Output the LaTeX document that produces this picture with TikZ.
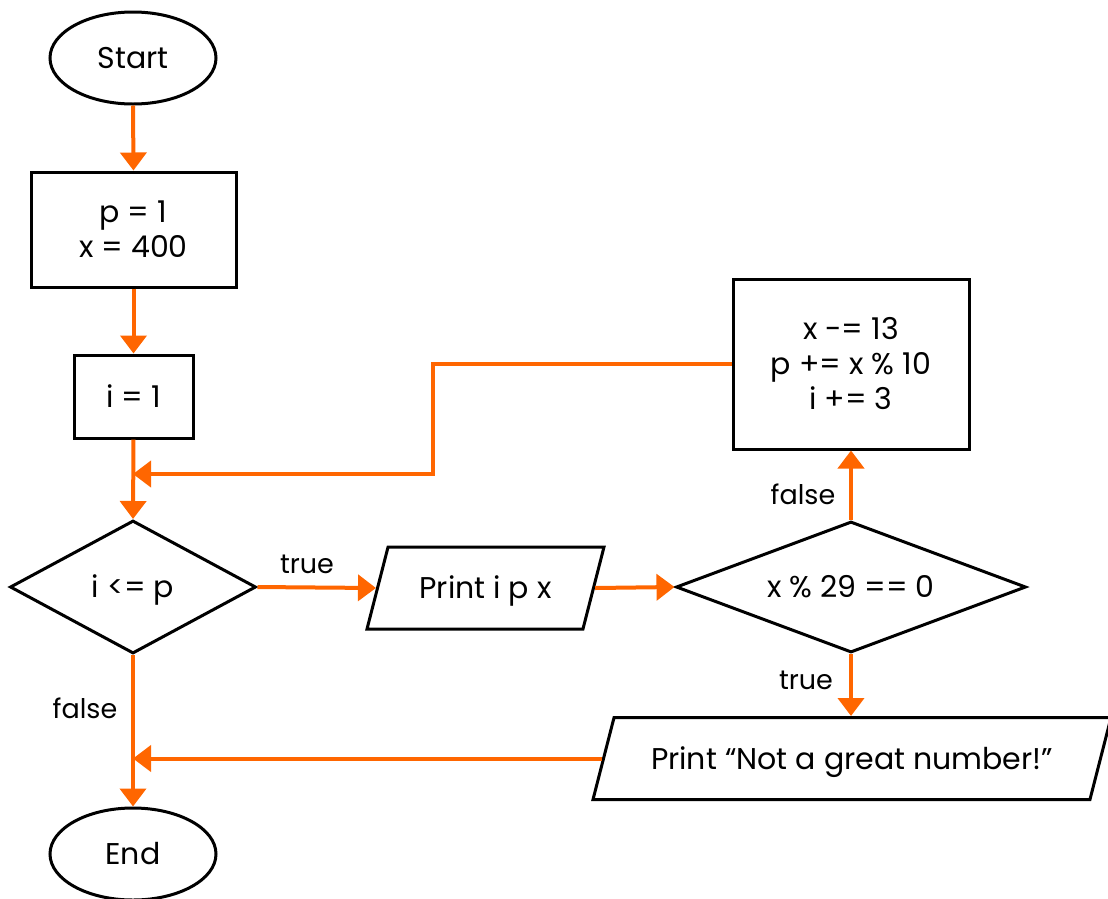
\documentclass[tikz,border=0pt]{standalone}
\usepackage{fontspec}
\setmainfont{Poppins}
\usetikzlibrary{shapes.geometric,arrows.meta}

\definecolor{flow}{HTML}{FF6600}

\begin{document}
\begin{tikzpicture}[x=1pt,y=-1pt,
  every node/.style={font=\fontsize{30}{35}\selectfont},
  shp/.style={draw=black, line width=3pt, inner sep=0pt, align=center},
  oneline/.style={text height=21pt, text depth=0pt},
  terminal/.style={shp, oneline, ellipse, minimum width=166pt, minimum height=92pt},
  process/.style={shp, rectangle},
  decision/.style={shp, oneline, diamond},
  io/.style={shp, trapezium, trapezium left angle=75.6, trapezium right angle=104.4,
    trapezium stretches body, text height=21pt, text depth=0pt, inner ysep=30.5pt},
  flowline/.style={draw=flow, line width=4pt, -{Triangle[length=18pt,width=26pt]}},
  lbl/.style={inner sep=0pt, font=\fontsize{27}{32}\selectfont}
]
\useasboundingbox (0,0) rectangle (1108,898);

% shapes
\node[terminal] (start) at (133,58) {Start};
\node[process, minimum width=205pt, minimum height=115pt] (init) at (133.5,229.5) {p = 1\\x = 400};
\node[process, oneline, minimum width=119pt, minimum height=83pt] (seti) at (133.5,396.5) {i = 1};
\node[decision, aspect=1.85, minimum width=246pt, minimum height=133pt] (cond) at (133,587) {i <= p};
\node[io, minimum width=237pt] (out) at (485.5,588) {Print i p x};
\node[decision, aspect=2.67, minimum width=350pt, minimum height=131pt] (test) at (851,587) {x \% 29 == 0};
\node[process, minimum width=236pt, minimum height=170pt] (update) at (851,364) {x -= 13\\p += x \% 10\\i += 3};
\node[io, minimum width=518pt] (msg) at (852,758.5) {Print “Not a great number!”};
\node[terminal] (stop) at (133,854) {End};

% joints on the main column
\coordinate (bendA) at (433,364);
\coordinate (bendB) at (433,474);
\coordinate (joinA) at (133,474);
\coordinate (joinB) at (133,758.5);

% connectors
\draw[flowline] (start.south) -- (init.north);
\draw[flowline] (init.south) -- (seti.north);
\draw[flowline] (seti.south) -- (cond.north);
\draw[flowline] (cond.east) -- (out.left side);
\draw[flowline] (out.right side) -- (test.west);
\draw[flowline] (test.north) -- (update.south);
\draw[flowline] (test.south) -- (test.south |- msg.north);
\draw[flowline] (cond.south) -- (stop.north);
\draw[flowline] (update.west) -- (bendA) -- (bendB) -- (joinA);
\draw[flowline] (msg.left side) -- (joinB);

% branch labels
\node[lbl] (ltrue1) at (307,564) {true};
\node[lbl] (lfalse1) at (803,494) {false};
\node[lbl] (ltrue2) at (806,680) {true};
\node[lbl] (lfalse2) at (85,708) {false};
\end{tikzpicture}
\end{document}
